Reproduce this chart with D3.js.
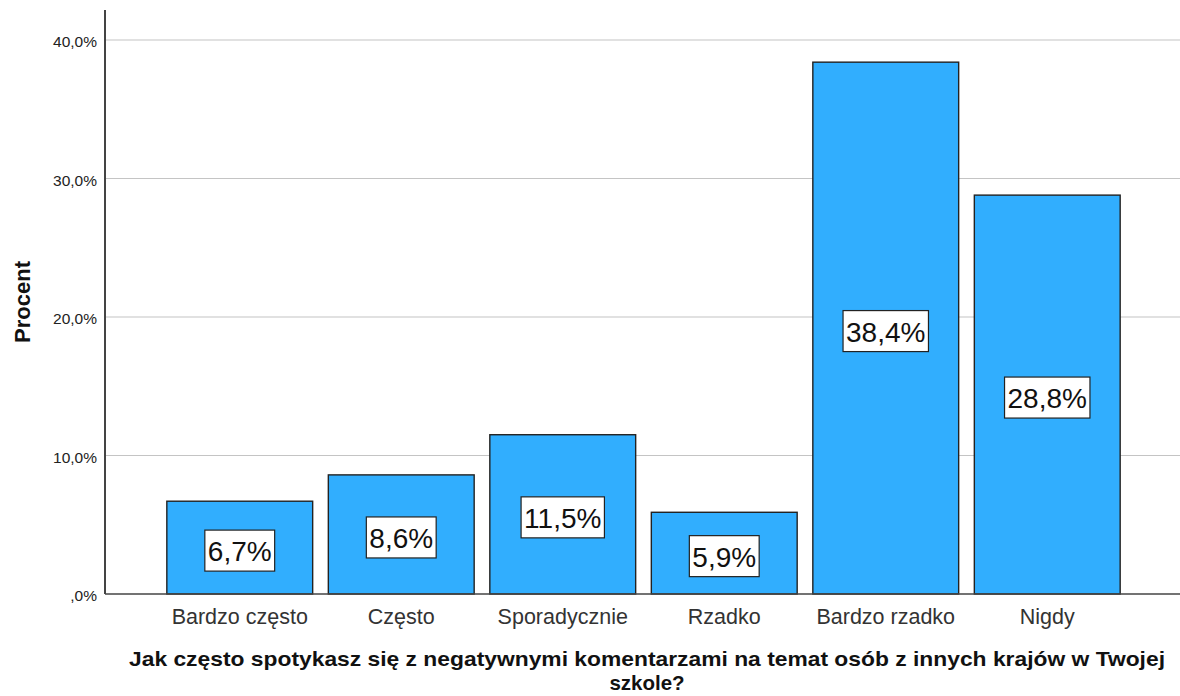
<!DOCTYPE html>
<html>
<head>
<meta charset="utf-8">
<script src="https://cdn.jsdelivr.net/npm/d3@7"></script>
<style>
  body { margin: 0; background: #fff; }
  text { font-family: "Liberation Sans", Arial, sans-serif; }
</style>
</head>
<body>
<svg id="chart" width="1180" height="696"></svg>
<script>
// data
var categories = ["Bardzo często", "Często", "Sporadycznie", "Rzadko", "Bardzo rzadko", "Nigdy"];
var percents = [6.7, 8.6, 11.5, 5.9, 38.4, 28.8];
var yTicks = [0, 10, 20, 30, 40];
var yTickLabels = [",0%", "10,0%", "20,0%", "30,0%", "40,0%"];
var xTitle = ["Jak często spotykasz się z negatywnymi komentarzami na temat osób z innych krajów w Twojej", "szkole?"];
var yTitle = "Procent";

var data = categories.map(function (c, i) { return {key: c, value: percents[i]}; });

var svg = d3.select("#chart");
var axisX = 105, plotTop = 10, plotRight = 1180, baseY = 594;

var x = d3.scaleBand()
  .domain(categories)
  .range([159, 1128])
  .paddingInner(0.097)
  .paddingOuter(0.0485);

var y = d3.scaleLinear()
  .domain([0, 40])
  .range([baseY, 40]);

// gridlines
svg.append("g").selectAll("line")
  .data(yTicks.filter(function (d) { return d > 0; }))
  .enter().append("line")
  .attr("x1", axisX).attr("x2", plotRight)
  .attr("y1", function (d) { return y(d); })
  .attr("y2", function (d) { return y(d); })
  .attr("stroke", "#c4c4c4")
  .attr("stroke-width", 1.2);

// y tick labels
svg.append("g").selectAll("text")
  .data(yTicks)
  .enter().append("text")
  .attr("x", 97)
  .attr("y", function (d) { return y(d) + 7; })
  .attr("text-anchor", "end")
  .attr("font-size", 15.5)
  .attr("fill", "#222")
  .text(function (d, i) { return yTickLabels[i]; });

// bars
svg.append("g").selectAll("rect")
  .data(data)
  .enter().append("rect")
  .attr("x", function (d) { return x(d.key); })
  .attr("y", function (d) { return y(d.value); })
  .attr("width", x.bandwidth())
  .attr("height", function (d) { return baseY - y(d.value); })
  .attr("fill", "#31aefe")
  .attr("stroke", "#222")
  .attr("stroke-width", 1.4);

// value labels in boxes
var lab = svg.append("g").selectAll("g")
  .data(data)
  .enter().append("g")
  .attr("transform", function (d) {
    return "translate(" + (x(d.key) + x.bandwidth() / 2) + "," + ((y(d.value) + baseY) / 2 + 3) + ")";
  });

lab.append("text")
  .attr("text-anchor", "middle")
  .attr("y", 10.5)
  .attr("font-size", 28)
  .attr("fill", "#111")
  .text(function (d) { return d3.format(".1f")(d.value).replace(".", ",") + "%"; });

lab.each(function () {
  var g = d3.select(this);
  var bb = g.select("text").node().getBBox();
  g.insert("rect", "text")
    .attr("x", bb.x - 3)
    .attr("y", -20.5)
    .attr("width", bb.width + 6)
    .attr("height", 41)
    .attr("fill", "#fff")
    .attr("stroke", "#222")
    .attr("stroke-width", 1.2);
});

// axes lines
svg.append("line")
  .attr("x1", axisX).attr("x2", axisX)
  .attr("y1", plotTop).attr("y2", baseY)
  .attr("stroke", "#444").attr("stroke-width", 2);
svg.append("line")
  .attr("x1", axisX).attr("x2", plotRight)
  .attr("y1", baseY).attr("y2", baseY)
  .attr("stroke", "#444").attr("stroke-width", 1.5);

// x category labels
svg.append("g").selectAll("text")
  .data(categories)
  .enter().append("text")
  .attr("x", function (d) { return x(d) + x.bandwidth() / 2; })
  .attr("y", 624)
  .attr("text-anchor", "middle")
  .attr("font-size", 21.5)
  .attr("fill", "#333")
  .text(function (d) { return d; });

// x title (two lines, first one stretched to the reference width)
svg.append("g").selectAll("text")
  .data(xTitle)
  .enter().append("text")
  .attr("x", 647)
  .attr("y", function (d, i) { return 666 + i * 24; })
  .attr("text-anchor", "middle")
  .attr("font-size", 20.5)
  .attr("font-weight", "bold")
  .attr("fill", "#111")
  .each(function (d, i) {
    if (i === 0) d3.select(this).attr("textLength", 1036).attr("lengthAdjust", "spacingAndGlyphs");
  })
  .text(function (d) { return d; });

// y title
svg.append("text")
  .attr("transform", "translate(30,302) rotate(-90)")
  .attr("text-anchor", "middle")
  .attr("font-size", 22)
  .attr("font-weight", "bold")
  .attr("fill", "#111")
  .text(yTitle);
</script>
</body>
</html>
